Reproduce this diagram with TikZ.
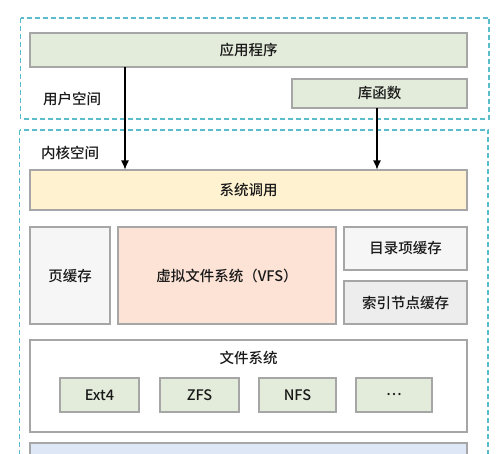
\documentclass[tikz,border=0pt]{standalone}
\usepackage{fontspec}
\usetikzlibrary{arrows.meta}
\newfontfamily\cjk[UprightFont={* Medium}]{Noto Sans CJK SC}
\definecolor{dashc}{HTML}{5BBCCB}
\definecolor{bord}{HTML}{A6A6A6}
\definecolor{greenf}{HTML}{E3ECDA}
\definecolor{yellowf}{HTML}{FEF2D0}
\definecolor{salmonf}{HTML}{FCE3D6}
\definecolor{grayA}{HTML}{F6F6F6}
\definecolor{grayB}{HTML}{EDEDED}
\definecolor{bluef}{HTML}{DDE7F5}
\begin{document}
\begin{tikzpicture}[x=1pt,y=-1pt,
  box/.style={draw=bord,line width=1.2pt,inner sep=0pt},
  region/.style={draw=dashc,dashed,line width=1.2pt,dash pattern=on 5pt off 3pt},
  lbl/.style={font=\cjk\fontsize{14.5}{16}\selectfont,text=black!90},
  arr/.style={-{Latex[length=9pt,width=8pt]},line width=1.1pt,black}]
\useasboundingbox (0,0) rectangle (500,454);
\clip (0,0) rectangle (500,454);
% regions
\draw[region] (20.5,18) rectangle (489,119);
\draw[region] (19.5,130) rectangle (488,470);
\node[lbl] (user) at (72,99) {用户空间};
\node[lbl] (kern) at (70,153) {内核空间};
% user space
\draw[box,fill=greenf] (30,33) rectangle (467,67);
\node[lbl] (app) at (248.5,50) {应用程序};
\draw[box,fill=greenf] (292,79) rectangle (467,108);
\node[lbl] (lib) at (379.5,93.5) {库函数};
% syscall
\draw[box,fill=yellowf] (30,170) rectangle (467,210);
\node[lbl] (sys) at (248.5,190) {系统调用};
\coordinate (a1s) at (125,67);
\coordinate (a1e) at (125,169.5);
\coordinate (a2s) at (377,108);
\coordinate (a2e) at (377,169.5);
\draw[arr] (a1s) -- (a1e);
\draw[arr] (a2s) -- (a2e);
% caches
\draw[box,fill=grayA] (30,227) rectangle (110,324);
\node[lbl] (pc) at (70,275.5) {页缓存};
\draw[box,fill=salmonf] (118,227) rectangle (336,324);
\node[lbl] (vfs) at (227,275.5) {虚拟文件系统（VFS）};
\draw[box,fill=grayA] (344,227) rectangle (467,270);
\node[lbl] (dc) at (405.5,248.5) {目录项缓存};
\draw[box,fill=grayB] (344,281) rectangle (467,324);
\node[lbl] (ic) at (405.5,302.5) {索引节点缓存};
% file systems
\draw[box,fill=white] (30,340) rectangle (467,432);
\node[lbl] (fs) at (248.5,358) {文件系统};
\draw[box,fill=greenf] (60,378) rectangle (139,412);
\node[lbl] (e4) at (99.5,395) {Ext4};
\draw[box,fill=greenf] (160,378) rectangle (239,412);
\node[lbl] (zfs) at (199.5,395) {ZFS};
\draw[box,fill=greenf] (259,378) rectangle (336,412);
\node[lbl] (nfs) at (297.5,395) {NFS};
\draw[box,fill=greenf] (356,378) rectangle (432,412);
\node[lbl] (dots) at (394,395) {⋯};
% bottom
\draw[box,fill=bluef] (30,443) rectangle (467,480);
\end{tikzpicture}
\end{document}
